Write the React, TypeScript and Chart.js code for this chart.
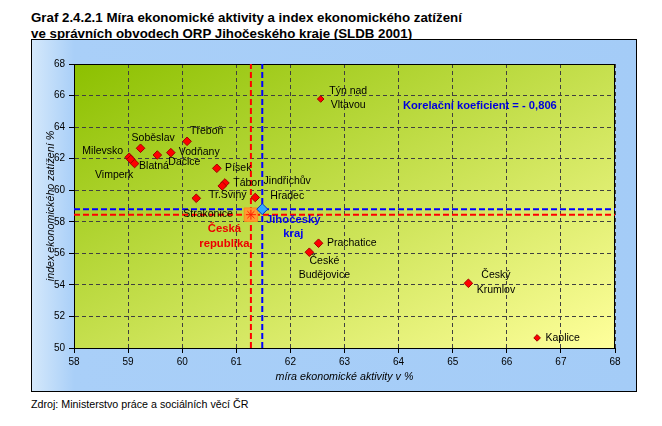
import React, { useEffect, useRef } from 'react';
import { Chart, registerables } from 'chart.js';

Chart.register(...registerables);

// ---------- DATA ----------
const titleLines = [
  'Graf 2.4.2.1 Míra ekonomické aktivity a index ekonomického zatížení',
  've správních obvodech ORP Jihočeského kraje (SLDB 2001)',
];
const sourceText = 'Zdroj: Ministerstvo práce a sociálních věcí ČR';
const xAxisTitle = 'míra ekonomické aktivity v %';
const yAxisTitle = 'index ekonomického zatížení %';
const correlationText = 'Korelační koeficient = - 0,806';

const districtNames = [
  'Milevsko', 'Soběslav', 'Vimperk', 'Blatná', 'Dačice', 'Vodňany', 'Třeboň',
  'Písek', 'Tábor', 'Strakonice', 'Tr.Sviny', 'Jindřichův\nHradec',
  'Týn nad\nVltavou', 'Prachatice', 'České\nBudějovice', 'Český\nKrumlov', 'Kaplice',
];
const economicActivity = [
  59.02, 59.23, 59.05, 59.12, 59.54, 59.79, 60.09,
  60.64, 60.79, 60.74, 60.26, 61.35,
  62.56, 62.52, 62.35, 65.29, 66.56,
];
const economicBurden = [
  62.09, 62.66, 61.95, 61.69, 62.23, 62.38, 63.10,
  61.39, 60.46, 60.27, 59.49, 59.54,
  65.78, 56.64, 56.07, 54.10, 50.64,
];

const czName = 'Česká\nrepublika';
const czActivity = 61.27;
const czBurden = 58.45;

const regionName = 'Jihočeský\nkraj';
const regionActivity = 61.48;
const regionBurden = 58.8;

const xMin = 58, xMax = 68, xStep = 1;
const yMin = 50, yMax = 68, yStep = 2;

// ---------- LAYOUT / STYLE ----------
type Lay = { align: CanvasTextAlign; dx: number; dy: number };
const districtLabelLayout: Lay[] = [
  { align: 'right', dx: -6, dy: -6.5 },   // Milevsko
  { align: 'left', dx: -9, dy: -10.6 },   // Soběslav
  { align: 'left', dx: -35.8, dy: 15.5 }, // Vimperk
  { align: 'left', dx: 4.5, dy: 2.5 },    // Blatná
  { align: 'left', dx: 11, dy: 7.3 },     // Dačice
  { align: 'left', dx: 8, dy: -0.4 },     // Vodňany
  { align: 'left', dx: 3, dy: -10.3 },    // Třeboň
  { align: 'left', dx: 8.3, dy: 0 },      // Písek
  { align: 'left', dx: 8.3, dy: 0 },      // Tábor
  { align: 'left', dx: -39, dy: 28 },     // Strakonice
  { align: 'left', dx: 12.7, dy: -3.3 },  // Tr.Sviny
  { align: 'center', dx: 32, dy: -16.5 }, // Jindřichův Hradec
  { align: 'center', dx: 27.5, dy: -8.3 },// Týn nad Vltavou
  { align: 'left', dx: 8.4, dy: 0 },      // Prachatice
  { align: 'center', dx: 15, dy: 8.4 },   // České Budějovice
  { align: 'center', dx: 27.5, dy: -8 },  // Český Krumlov
  { align: 'left', dx: 8.4, dy: 0 },      // Kaplice
];
const smallMarkerIdx = [12, 16];
const czLabelLayout: Lay = { align: 'center', dx: -26.5, dy: 14.7 };
const regionLabelLayout: Lay = { align: 'center', dx: 31, dy: 10.5 };
const correlationAnchor = { x: 64.08, y: 65.36 };
const lineGap = 14.7;

const FONT = '"Liberation Sans", Arial, Helvetica, sans-serif';

const plotBgPlugin = {
  id: 'plotBg',
  beforeDraw(chart: any) {
    const { ctx, chartArea: a } = chart;
    const w = a.right - a.left, h = a.bottom - a.top;
    const cx = (a.left + a.right) / 2, cy = (a.top + a.bottom) / 2;
    const k = (w * h) / (w * w + h * h);
    const g = ctx.createLinearGradient(cx - h * k, cy - w * k, cx + h * k, cy + w * k);
    g.addColorStop(0, '#8cc000');
    g.addColorStop(1, '#ffff9c');
    ctx.save();
    ctx.fillStyle = g;
    ctx.fillRect(a.left, a.top, w, h);
    ctx.restore();
  },
  beforeDatasetsDraw(chart: any) {
    const { ctx, chartArea: a } = chart;
    ctx.save();
    ctx.strokeStyle = '#000';
    ctx.lineWidth = 1;
    ctx.strokeRect(Math.round(a.left) + 0.5, Math.round(a.top) + 0.5, Math.round(a.right - a.left) - 1, Math.round(a.bottom - a.top));
    ctx.restore();
  },
};

const labelsPlugin = {
  id: 'pointLabels',
  afterDatasetsDraw(chart: any) {
    const { ctx } = chart;
    const xs = chart.scales.x, ys = chart.scales.y;
    ctx.save();
    ctx.textBaseline = 'middle';
    const draw = (text: string, vx: number, vy: number, lay: Lay, font: string, color: string) => {
      const px = xs.getPixelForValue(vx), py = ys.getPixelForValue(vy);
      ctx.font = font;
      ctx.fillStyle = color;
      ctx.textAlign = lay.align;
      text.split('\n').forEach((line, i) => ctx.fillText(line, px + lay.dx, py + lay.dy + i * lineGap));
    };
    districtNames.forEach((n, i) =>
      draw(n, economicActivity[i], economicBurden[i], districtLabelLayout[i], `10.5px ${FONT}`, '#000'));
    draw(czName, czActivity, czBurden, czLabelLayout, `bold 11.3px ${FONT}`, '#ee0000');
    draw(regionName, regionActivity, regionBurden, regionLabelLayout, `bold 11.3px ${FONT}`, '#0000ee');
    draw(correlationText, correlationAnchor.x, correlationAnchor.y, { align: 'left', dx: 0, dy: 0 }, `bold 11.2px ${FONT}`, '#0000dd');
    ctx.restore();
  },
};

export default function App() {
  const ref = useRef<HTMLCanvasElement>(null);

  useEffect(() => {
    if (!ref.current) return;
    Chart.defaults.font.family = FONT;
    const refLine = (pts: { x: number; y: number }[], color: string) => ({
      type: 'line' as const,
      data: pts,
      borderColor: color,
      borderWidth: 2,
      borderDash: [6, 3],
      pointRadius: 0,
      showLine: true,
      fill: false,
      order: 10,
    });
    const chart = new Chart(ref.current, {
      type: 'scatter',
      data: {
        datasets: [
          refLine([{ x: czActivity, y: yMin }, { x: czActivity, y: yMax }], '#ff0000'),
          refLine([{ x: xMin, y: czBurden }, { x: xMax, y: czBurden }], '#ff0000'),
          refLine([{ x: regionActivity, y: yMin }, { x: regionActivity, y: yMax }], '#0000ff'),
          refLine([{ x: xMin, y: regionBurden }, { x: xMax, y: regionBurden }], '#0000ff'),
          {
            data: [{ x: czActivity, y: czBurden }],
            pointStyle: 'rect',
            pointRadius: 9.5,
            pointRotation: 0,
            pointBackgroundColor: '#ff9a33',
            pointBorderColor: '#ff8c1a',
            backgroundColor: '#ff9a33',
            borderColor: '#ff8c1a',
            borderWidth: 1,
            order: 4,
          },
          {
            data: [{ x: czActivity, y: czBurden }],
            pointStyle: 'star',
            pointRadius: 5,
            borderColor: '#ff1a00',
            backgroundColor: 'rgba(0,0,0,0)',
            borderWidth: 1,
            order: 3,
          },
          {
            data: [{ x: regionActivity, y: regionBurden }],
            pointStyle: 'rectRot',
            pointRadius: 5.5,
            backgroundColor: '#33aaff',
            borderColor: '#0033cc',
            borderWidth: 1,
            order: 2,
          },
          {
            data: economicActivity.map((x, i) => ({ x, y: economicBurden[i] })),
            pointStyle: 'rectRot',
            pointRadius: (c: any) => (smallMarkerIdx.includes(c.dataIndex) ? 3.3 : 4.3),
            backgroundColor: '#ff0000',
            borderColor: '#a00000',
            borderWidth: 1,
            order: 1,
          },
        ] as any,
      },
      options: {
        animation: false,
        responsive: false,
        events: [],
        layout: { padding: { top: 24, right: 21, bottom: 0, left: 0 } },
        plugins: { legend: { display: false }, tooltip: { enabled: false } },
        scales: {
          x: {
            type: 'linear',
            min: xMin,
            max: xMax,
            ticks: { stepSize: xStep, color: '#000', font: { size: 10 }, padding: 3, maxRotation: 0 },
            grid: {
              color: '#404040',
              tickColor: '#000',
              tickBorderDash: [],
              tickLength: 5,
              drawTicks: true,
            } as any,
            border: { display: true, color: '#000', width: 1, dash: [4, 3] } as any,
            title: {
              display: true,
              text: xAxisTitle,
              color: '#000',
              font: { size: 10.7, style: 'italic' },
              padding: { top: 0, bottom: 7.6 },
            },
            afterFit: (s: any) => { s.height = 43; },
          },
          y: {
            type: 'linear',
            min: yMin,
            max: yMax,
            ticks: { stepSize: yStep, color: '#000', font: { size: 10 }, padding: 4 },
            grid: {
              color: '#404040',
              tickColor: '#000',
              tickBorderDash: [],
              tickLength: 5,
              drawTicks: true,
            } as any,
            border: { display: true, color: '#000', width: 1, dash: [4, 3] } as any,
            title: {
              display: true,
              text: yAxisTitle,
              color: '#000',
              font: { size: 10.7, style: 'italic' },
              padding: { top: 12.5, bottom: 0 },
            },
            afterFit: (s: any) => { s.width = 42; },
          },
        },
      },
      plugins: [plotBgPlugin, labelsPlugin],
    });
    return () => chart.destroy();
  }, []);

  return (
    <div>
      <div
        style={{
          position: 'absolute', left: 31, top: 10, font: `bold 13.3px ${FONT}`,
          lineHeight: '16px', color: '#000', whiteSpace: 'nowrap',
        }}
      >
        {titleLines.map((t) => (<div key={t}>{t}</div>))}
      </div>
      <div
        style={{
          position: 'absolute', left: 31, top: 39, width: 606, height: 353,
          boxSizing: 'border-box', border: '1px solid #000',
          background: 'linear-gradient(to right, #d4e8fb 0%, #a9cff8 7%, #a4ccf7 100%)',
        }}
      >
        <canvas ref={ref} width={604} height={351} style={{ display: 'block', width: 604, height: 351 }} />
      </div>
      <div
        style={{
          position: 'absolute', left: 31, top: 397, font: `10.7px ${FONT}`,
          lineHeight: '14px', color: '#000', whiteSpace: 'nowrap',
        }}
      >
        {sourceText}
      </div>
    </div>
  );
}
